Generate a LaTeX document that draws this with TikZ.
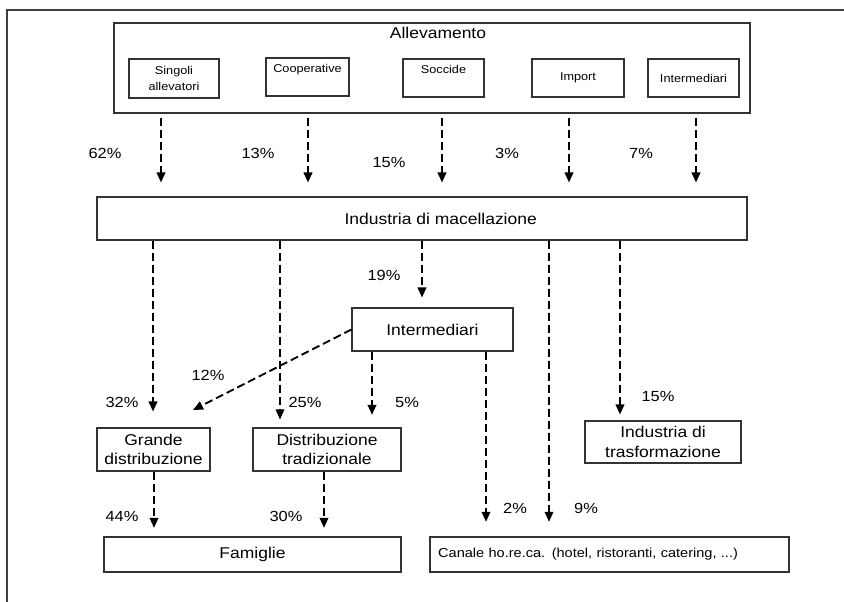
\documentclass[tikz,border=0pt]{standalone}
\usepackage{fontspec}
\setmainfont[FakeStretch=1.12]{Liberation Sans}
\usetikzlibrary{arrows.meta}

\begin{document}
\begin{tikzpicture}[x=0.75pt,y=-0.75pt,
  box/.style 2 args={draw=black!80,line width=0.8pt,minimum width=#1,minimum height=#2,inner sep=0pt,align=center,font=\fontsize{11.7}{14.5}\selectfont},
  subbox/.style 2 args={box={#1}{#2},font=\fontsize{8.5}{12}\selectfont},
  pct/.style={inner sep=0pt,font=\fontsize{11}{13}\selectfont},
  flow/.style={dash pattern=on 6pt off 3pt,line width=1.4pt,-{Triangle[width=6.5pt,length=7.5pt]}},
  thinflow/.style={flow,line width=0.9pt}]
 \useasboundingbox (0,0) rectangle (844,602);
 \draw[black!75,line width=0.8pt] (844,10) -- (7,10) -- (7,602);

 \node[box={477pt}{67.5pt}] (Alle) at (432,68) {};
 \node[pct,font=\fontsize{11.7}{14}\selectfont] (AlleT) at (438,33) {Allevamento};
 \node[subbox={67.5pt}{29.25pt}] (Sing) at (174,78.5) {Singoli\\allevatori};
 \node[subbox={62.25pt}{28.5pt},text height=6pt,text depth=12pt] (Coop) at (307.5,77) {Cooperative};
 \node[subbox={60.75pt}{28.5pt},text height=6pt,text depth=12pt] (Socc) at (443.5,78) {Soccide};
 \node[subbox={69pt}{28.5pt}] (Imp) at (578,78) {Import};
 \node[subbox={68.25pt}{28.5pt}] (InterA) at (693.5,78) {Intermediari};

 \node[box={487.5pt}{32.25pt}] (Mac) at (422,218.5) {\hspace*{28pt}Industria di macellazione};
 \node[box={120.75pt}{32.25pt}] (Inter) at (432.5,329.5) {Intermediari};
 \node[box={84.75pt}{32.25pt}] (Gdo) at (153.5,449.5) {Grande\\distribuzione};
 \node[box={111pt}{32.25pt}] (Trad) at (327,449.5) {Distribuzione\\tradizionale};
 \node[box={117pt}{31.5pt}] (Trasf) at (663,442) {Industria di\\trasformazione};
 \node[box={222.75pt}{26.25pt}] (Fam) at (252.5,554.5) {Famiglie};
 \node[box={269.25pt}{26.25pt},inner xsep=6pt,text width=257pt,align=left,font=\fontsize{9.75}{12}\selectfont] (Horeca) at (609.5,554.5) {Canale ho.re.ca. (hotel, ristoranti, catering, ...)};
 \coordinate (GdoTip) at (193,410);

 \draw[flow,shorten <=3pt,shorten >=10.5pt] (Alle.south -| 161,0) -- (Mac.north -| 161,0);
 \draw[flow,shorten <=3pt,shorten >=10.5pt] (Alle.south -| 308,0) -- (Mac.north -| 308,0);
 \draw[flow,shorten <=3pt,shorten >=10.5pt] (Alle.south -| 442,0) -- (Mac.north -| 442,0);
 \draw[flow,shorten <=3pt,shorten >=10.5pt] (Alle.south -| 569,0) -- (Mac.north -| 569,0);
 \draw[flow,shorten <=3pt,shorten >=10.5pt] (Alle.south -| 696,0) -- (Mac.north -| 696,0);

 \draw[flow,shorten >=12pt] (Mac.south -| 153,0) -- (Gdo.north -| 153,0);
 \draw[thinflow,shorten >=6pt] (Mac.south -| 280,0) -- (Trad.north -| 280,0);
 \draw[flow,shorten >=7.5pt] (Mac.south -| 422,0) -- (Inter.north -| 422,0);
 \draw[thinflow,shorten >=11pt] (Mac.south -| 549,0) -- (Horeca.north -| 549,0);
 \draw[flow,line width=1.2pt,shorten >=4.5pt] (Mac.south -| 620,0) -- (Trasf.north -| 620,0);

 \draw[flow] (Inter.west) -- (GdoTip);
 \draw[flow,shorten >=9.5pt] (Inter.south -| 372,0) -- (Trad.north -| 372,0);
 \draw[thinflow,shorten >=11pt] (Inter.south -| 486,0) -- (Horeca.north -| 486,0);
 \draw[flow,shorten >=6.5pt] (Gdo.south -| 154,0) -- (Fam.north -| 154,0);
 \draw[flow,shorten >=6.5pt] (Trad.south -| 324,0) -- (Fam.north -| 324,0);

 \node[pct] (p62) at (105,153) {62\%};
 \node[pct] (p13) at (258,153) {13\%};
 \node[pct] (p15a) at (389,162) {15\%};
 \node[pct] (p3) at (507,153) {3\%};
 \node[pct] (p7) at (641,153) {7\%};
 \node[pct] (p19) at (384,275) {19\%};
 \node[pct] (p12) at (208,375) {12\%};
 \node[pct] (p32) at (122,402) {32\%};
 \node[pct] (p25) at (305,402) {25\%};
 \node[pct] (p5) at (407,402) {5\%};
 \node[pct] (p15b) at (658,396) {15\%};
 \node[pct] (p44) at (122,516) {44\%};
 \node[pct] (p30) at (286,516) {30\%};
 \node[pct] (p2) at (515,508) {2\%};
 \node[pct] (p9) at (586,508) {9\%};
\end{tikzpicture}
\end{document}
